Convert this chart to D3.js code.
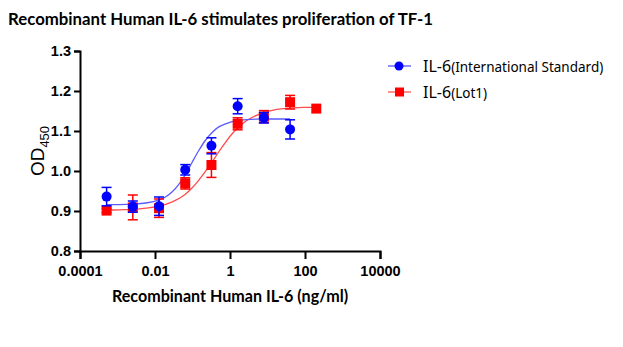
<!DOCTYPE html>
<html>
<head>
<meta charset="utf-8">
<script src="https://cdn.jsdelivr.net/npm/d3@7"></script>
<style>
  body { margin: 0; background: #fff; }
  svg { display: block; }
</style>
</head>
<body>
<div id="chart"></div>
<script>
// dose (ng/ml), 5-fold dilution series
var doses = [0.000512, 0.00256, 0.0128, 0.064, 0.32, 1.6, 8, 40, 200];

// IL-6 International Standard (blue), mean OD450 and SD
var stdMean = [0.936, 0.911, 0.912, 1.003, 1.063, 1.162, 1.133, 1.104];
var stdSD   = [0.023, 0.014, 0.023, 0.013, 0.020, 0.019, 0.013, 0.024];

// IL-6 Lot1 (red)
var lotMean = [0.901, 0.909, 0.907, 0.969, 1.015, 1.118, 1.136, 1.172, 1.156];
var lotSD   = [0.005, 0.031, 0.023, 0.014, 0.031, 0.015, 0.015, 0.017, 0.000];

// fitted curves (log10 dose, OD)
var stdFitLog = [-3.29, -2.94, -2.59, -2.24, -1.89, -1.72, -1.54, -1.37, -1.19, -1.02, -0.84, -0.67, -0.49, -0.32, -0.14, 0.03, 0.21, 0.55, 0.90, 1.25, 1.60];
var stdFitOD  = [0.916, 0.916, 0.917, 0.920, 0.928, 0.935, 0.948, 0.966, 0.991, 1.020, 1.050, 1.075, 1.095, 1.109, 1.117, 1.123, 1.126, 1.129, 1.130, 1.130, 1.130];
var lotFitLog = [-3.29, -2.94, -2.59, -2.24, -1.89, -1.54, -1.19, -1.02, -0.84, -0.67, -0.49, -0.32, -0.14, 0.03, 0.21, 0.38, 0.55, 0.90, 1.25, 1.60, 1.95, 2.30];
var lotFitOD  = [0.902, 0.903, 0.904, 0.907, 0.912, 0.923, 0.942, 0.957, 0.976, 0.997, 1.021, 1.045, 1.069, 1.090, 1.108, 1.122, 1.132, 1.146, 1.154, 1.157, 1.159, 1.159];

var xTicks = [0.0001, 0.01, 1, 100, 10000];
var xTickLabels = ["0.0001", "0.01", "1", "100", "10000"];
var yTicks = [0.8, 0.9, 1.0, 1.1, 1.2, 1.3];

var w = 623, h = 347;
var svg = d3.select("#chart").append("svg").attr("width", w).attr("height", h);

var x = d3.scaleLog().domain([0.0001, 10000]).range([80, 380]);
var y = d3.scaleLinear().domain([0.8, 1.3]).range([251, 51]);

var blue = "#0000ff", red = "#ff0000";

// title
svg.append("text")
  .attr("x", 8).attr("y", 25)
  .style("font-family", "Lato, 'Open Sans', sans-serif")
  .style("font-weight", "bold")
  .style("font-size", "16.8px")
  .text("Recombinant Human IL-6 stimulates proliferation of TF-1");

// axes
var yAxis = svg.append("g")
  .attr("transform", "translate(80,0)")
  .call(d3.axisLeft(y).tickValues(yTicks).tickSize(6).tickPadding(3).tickFormat(d3.format(".1f")));
var xAxis = svg.append("g")
  .attr("transform", "translate(0,251)")
  .call(d3.axisBottom(x).tickValues(xTicks).tickSize(8).tickPadding(7)
    .tickFormat(function(d, i) { return xTickLabels[i]; }));

[yAxis, xAxis].forEach(function(g) {
  g.select(".domain").attr("stroke", "#000").attr("stroke-width", 2);
  g.selectAll(".tick line").attr("stroke", "#000").attr("stroke-width", 2);
  g.selectAll(".tick text")
    .attr("fill", "#000")
    .style("font-family", "'Liberation Sans', Arial, sans-serif")
    .style("font-weight", "bold")
    .style("font-size", "14.5px");
});

// y title OD450
var yt = svg.append("text")
  .attr("transform", "translate(44,151) rotate(-90)")
  .attr("text-anchor", "middle")
  .style("font-family", "'Liberation Sans', Arial, sans-serif")
  .style("font-size", "19px");
yt.append("tspan").text("OD");
yt.append("tspan").attr("dy", 5).style("font-size", "13px").text("450");

// x title
svg.append("text")
  .attr("x", 230).attr("y", 302)
  .attr("text-anchor", "middle")
  .style("font-family", "Lato, 'Open Sans', sans-serif")
  .style("font-weight", "bold")
  .style("font-size", "16.1px")
  .text("Recombinant Human IL-6 (ng/ml)");

// fitted curves
var line = d3.line()
  .x(function(d) { return x(Math.pow(10, d[0])); })
  .y(function(d) { return y(d[1]); })
  .curve(d3.curveMonotoneX);

svg.append("path")
  .datum(d3.zip(lotFitLog, lotFitOD))
  .attr("d", line).attr("fill", "none")
  .attr("stroke", "#ff4d4d").attr("stroke-width", 1.3);
svg.append("path")
  .datum(d3.zip(stdFitLog, stdFitOD))
  .attr("d", line).attr("fill", "none")
  .attr("stroke", "#5a5aff").attr("stroke-width", 1.3);

function drawSeries(mean, sd, color, shape) {
  var g = svg.append("g");
  var pts = mean.map(function(m, i) { return { dose: doses[i], m: m, sd: sd[i] }; });
  var eb = g.selectAll("g.eb").data(pts).enter().append("g")
    .attr("stroke", color).attr("stroke-width", 1.5);
  eb.append("line")
    .attr("x1", function(d) { return x(d.dose); })
    .attr("x2", function(d) { return x(d.dose); })
    .attr("y1", function(d) { return y(d.m - d.sd); })
    .attr("y2", function(d) { return y(d.m + d.sd); });
  [1, -1].forEach(function(s) {
    eb.filter(function(d) { return d.sd > 0; }).append("line")
      .attr("x1", function(d) { return x(d.dose) - 5; })
      .attr("x2", function(d) { return x(d.dose) + 5; })
      .attr("y1", function(d) { return y(d.m + s * d.sd); })
      .attr("y2", function(d) { return y(d.m + s * d.sd); });
  });
  if (shape === "circle") {
    g.selectAll("circle").data(pts).enter().append("circle")
      .attr("cx", function(d) { return x(d.dose); })
      .attr("cy", function(d) { return y(d.m); })
      .attr("r", 5).attr("fill", color);
  } else {
    g.selectAll("rect").data(pts).enter().append("rect")
      .attr("x", function(d) { return x(d.dose) - 5; })
      .attr("y", function(d) { return y(d.m) - 5; })
      .attr("width", 10).attr("height", 10).attr("fill", color);
  }
}

drawSeries(lotMean, lotSD, red, "square");
drawSeries(stdMean, stdSD, blue, "circle");

// legend
var legend = svg.append("g");
var items = [
  { main: "IL-6", sub: "(International Standard)", color: blue, line: "#6a6aff", shape: "circle" },
  { main: "IL-6", sub: "(Lot1)", color: red, line: "#ff6a6a", shape: "square" }
];
items.forEach(function(it, i) {
  var yy = 66 + i * 26;
  legend.append("line").attr("x1", 388).attr("x2", 411).attr("y1", yy).attr("y2", yy)
    .attr("stroke", it.line).attr("stroke-width", 1.5);
  if (it.shape === "circle") {
    legend.append("circle").attr("cx", 399).attr("cy", yy).attr("r", 4.5).attr("fill", it.color);
  } else {
    legend.append("rect").attr("x", 395).attr("y", yy - 4.5).attr("width", 9).attr("height", 9).attr("fill", it.color);
  }
  var t = legend.append("text").attr("x", 423).attr("y", yy + 5.5)
    .style("font-family", "'Noto Sans', 'Open Sans', sans-serif");
  t.append("tspan").style("font-size", "16px").text(it.main);
  t.append("tspan").style("font-size", "13.5px").text(it.sub);
});
</script>
</body>
</html>
